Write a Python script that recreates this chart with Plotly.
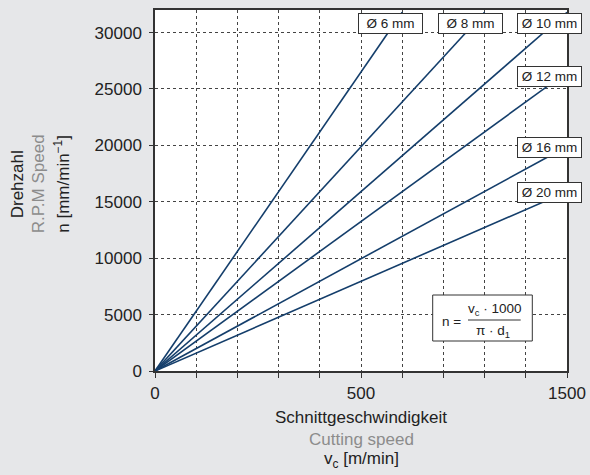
import plotly.graph_objects as go

# ---- data ----
diameters = ["Ø 6 mm", "Ø 8 mm", "Ø 10 mm", "Ø 12 mm", "Ø 16 mm", "Ø 20 mm"]
vc_end = [600, 800, 1000, 1000, 1000, 1000]        # m/min at line end
n_end = [31800, 31800, 31800, 26500, 19900, 15900]  # rpm at line end
x_tickvals = [0, 100, 200, 300, 400, 500, 600, 700, 800, 900, 1000]
x_ticktext = ["0", "", "", "", "", "500", "", "", "", "", "1500"]
y_tickvals = [0, 5000, 10000, 15000, 20000, 25000, 30000]
y_ticktext = ["0", "5000", "10000", "15000", "20000", "25000", "30000"]

# ---- styles / layout ----
W, H = 590, 475
L, R, T, B = 155, 567, 10, 371
XMAX, YMAX = 1000, 32000
LINE_COL = "#143e6b"
DARK = "#222222"
GRAY = "#8c8c8c"
BG = "#e6e7e9"
FONT = "Liberation Sans, Arial, Helvetica, sans-serif"


def px2x(px):
    return (px - L) / (R - L)


def py2y(py):
    return (B - py) / (B - T)


def ann(px, py, text, size=13, color=DARK, **kw):
    d = dict(x=px2x(px), y=py2y(py), xref="paper", yref="paper", text=text,
             showarrow=False, xanchor="center", yanchor="middle",
             font=dict(size=size, color=color, family=FONT))
    d.update(kw)
    return d


fig = go.Figure()
for name, xe, ye in zip(diameters, vc_end, n_end):
    fig.add_trace(go.Scatter(x=[0, xe], y=[0, ye], mode="lines", name=name,
                             line=dict(color=LINE_COL, width=1.6),
                             showlegend=False, hoverinfo="skip"))

# label boxes (positions in pixels)
label_pos = [(390.5, 23.5), (470, 23.5), (549.5, 23.5), (549.5, 76), (549.5, 147), (549.5, 192.7)]
annotations = []
for name, (px, py) in zip(diameters, label_pos):
    annotations.append(ann(px, py, name, size=13.5, bgcolor="white", bordercolor="#333333",
                           borderwidth=1, borderpad=2, width=59, height=15))

# formula
annotations += [
    ann(451.7, 321.7, "n =", size=13.5),
    ann(494.5, 309, "v<sub>c</sub> · 1000", size=13.5),
    ann(493, 331, "π · d<sub>1</sub>", size=13.5),
]

# axis titles
cx = (L + R) / 2
annotations += [
    ann(cx, 417, "Schnittgeschwindigkeit", size=17),
    ann(cx, 439, "Cutting speed", size=17, color=GRAY),
    ann(cx, 460, "v<sub>c</sub> [m/min]", size=17),
    ann(18.3, 184, "Drehzahl", size=17, textangle=-90),
    ann(39.3, 184, "R.P.M Speed", size=17, color=GRAY, textangle=-90),
    ann(61.7, 184, "n [mm/min<sup>−1</sup>]", size=17, textangle=-90),
]

shapes = [
    dict(type="rect", xref="paper", yref="paper", x0=px2x(432.7), x1=px2x(532.3),
         y0=py2y(341), y1=py2y(295),
         fillcolor="white", line=dict(color="#333333", width=1), layer="above"),
    dict(type="line", xref="paper", yref="paper", x0=px2x(468), x1=px2x(520.7),
         y0=py2y(320), y1=py2y(320),
         line=dict(color="#333333", width=1), layer="above"),
]

fig.update_layout(
    width=W, height=H,
    margin=dict(l=L, r=W - R, t=T, b=H - B, autoexpand=False),
    paper_bgcolor=BG, plot_bgcolor="white",
    font=dict(family=FONT, color=DARK),
    annotations=annotations, shapes=shapes,
)
fig.update_xaxes(range=[0, XMAX], tickvals=x_tickvals, ticktext=x_ticktext,
                 ticks="outside", ticklen=5, tickcolor="#333333", tickwidth=1,
                 showline=True, linecolor="#333333", linewidth=1.5, mirror=True,
                 showgrid=True, gridcolor="#444444", griddash="dot", gridwidth=1,
                 zeroline=False, tickfont=dict(size=17, color=DARK), ticklabelstandoff=1)
fig.update_yaxes(range=[0, YMAX], tickvals=y_tickvals, ticktext=y_ticktext,
                 ticks="outside", ticklen=4, tickcolor="#333333", tickwidth=1,
                 showline=True, linecolor="#333333", linewidth=1.5, mirror=True,
                 showgrid=True, gridcolor="#444444", griddash="dot", gridwidth=1,
                 zeroline=False, tickfont=dict(size=17, color=DARK), ticklabelstandoff=4)

fig.write_html("out.html", config={"displayModeBar": False},
               post_script="document.body.style.margin='0px';"
                           "document.body.style.background='" + BG + "';")
